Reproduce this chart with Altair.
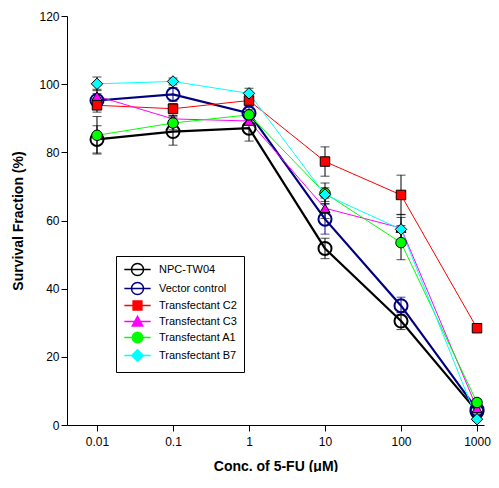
import altair as alt
import pandas as pd

conc = [0.01, 0.1, 1, 10, 100, 1000]
series_names = ["NPC-TW04", "Vector control", "Transfectant C2",
                "Transfectant C3", "Transfectant A1", "Transfectant B7"]

npc = [83.8, 86.1, 87.1, 51.8, 30.5, 4.0]
npc_err = [4.0, 4.0, 3.8, 3.0, 2.5, 1.0]
vec = [95.2, 97.0, 91.5, 60.4, 35.0, 4.5]
vec_err = [2.0, 2.0, 2.0, 4.4, 2.5, 1.0]
c2 = [93.8, 92.8, 95.2, 77.3, 67.5, 28.4]
c2_err = [2.0, 1.5, 1.5, 4.3, 5.8, 0.5]
c3 = [96.5, 89.8, 89.2, 63.6, 57.8, 4.9]
c3_err = [2.0, 1.0, 1.0, 3.0, 4.0, 1.0]
a1 = [85.0, 88.6, 91.0, 68.0, 53.5, 6.6]
a1_err = [5.5, 2.0, 1.5, 3.0, 5.0, 1.0]
b7 = [100.1, 100.8, 97.3, 67.6, 57.4, 1.7]
b7_err = [2.0, 1.0, 1.5, 2.0, 3.5, 0.5]

values = [npc, vec, c2, c3, a1, b7]
errors = [npc_err, vec_err, c2_err, c3_err, a1_err, b7_err]

line_colors = ["#000000", "#000080", "#ff0000", "#ff00ff", "#00ff00", "#00ffff"]
line_widths = [2.2, 2.2, 1.0, 1.0, 1.0, 1.0]
shapes = ["circle", "circle", "square", "triangle-up", "circle", "diamond"]
fills = ["transparent", "transparent", "#ff0000", "#ff00ff", "#00ff00", "#00ffff"]
strokes = ["#000000", "#000080", "#000000", "#000000", "#000000", "#000000"]
sizes = [170, 170, 90, 100, 110, 130]
stroke_widths = [2.0, 2.0, 1.0, 1.0, 1.0, 1.0]

# legend glyphs: a short line with the marker drawn on it
CIRC_OPEN = "M-2.4,0L2.4,0M1.1,0A1.1,1.1 0 1,1 -1.1,0A1.1,1.1 0 1,1 1.1,0Z"
SQUARE = "M-2.4,0L-0.8,0M0.8,0L2.4,0M-0.8,-0.8L0.8,-0.8L0.8,0.8L-0.8,0.8Z"
TRIANGLE = "M-2.4,0L-0.5,0M0.5,0L2.4,0M0,-0.95L0.95,0.8L-0.95,0.8Z"
CIRC = "M-2.4,0L-0.95,0M0.95,0L2.4,0M0.95,0A0.95,0.95 0 1,1 -0.95,0A0.95,0.95 0 1,1 0.95,0Z"
DIAMOND = "M-2.4,0L-1.05,0M1.05,0L2.4,0M-1.05,0L0,-1.05L1.05,0L0,1.05Z"
legend_glyphs = [CIRC_OPEN, CIRC_OPEN, SQUARE, TRIANGLE, CIRC, DIAMOND]

rows = []
for name, vals, errs in zip(series_names, values, errors):
    for c, v, e in zip(conc, vals, errs):
        rows.append({"series": name, "conc": c, "value": v,
                     "lo": v - e, "hi": v + e})
df = pd.DataFrame(rows)

font = "Liberation Sans"
xscale = alt.Scale(type="log", domain=[0.00403, 1236], nice=False)
xaxis = alt.Axis(values=conc, format="~g", title="Conc. of 5-FU (\u03bcM)")
yscale = alt.Scale(domain=[0, 120], nice=False, zero=False)
yaxis = alt.Axis(values=[0, 20, 40, 60, 80, 100, 120], title="Survival Fraction (%)")

X = alt.X("conc:Q", scale=xscale, axis=xaxis)
Y = alt.Y("value:Q", scale=yscale, axis=yaxis)

base = alt.Chart(df)


def err_layers(filt, color):
    b = base.transform_filter(filt)
    rule = b.mark_rule(color=color, strokeWidth=1).encode(
        x=X, y=alt.Y("lo:Q", scale=yscale, axis=yaxis), y2="hi:Q")
    cap_lo = b.mark_tick(orient="horizontal", size=9, thickness=1, color=color).encode(
        x=X, y=alt.Y("lo:Q", scale=yscale, axis=yaxis))
    cap_hi = b.mark_tick(orient="horizontal", size=9, thickness=1, color=color).encode(
        x=X, y=alt.Y("hi:Q", scale=yscale, axis=yaxis))
    return [rule, cap_lo, cap_hi]


errs_black = err_layers(alt.datum.series != "Vector control", "black")
errs_navy = err_layers(alt.datum.series == "Vector control", "#000080")

line_layers = []
for i, name in enumerate(series_names):
    line_layers.append(
        base.transform_filter(alt.datum.series == name).mark_line(
            color=line_colors[i], strokeWidth=line_widths[i]
        ).encode(x=X, y=Y)
    )

marker_layers = []
for i, name in enumerate(series_names):
    marker_layers.append(
        base.transform_filter(alt.datum.series == name).mark_point(
            shape=shapes[i], fill=fills[i], stroke=strokes[i], size=sizes[i],
            strokeWidth=stroke_widths[i], opacity=1, fillOpacity=1,
        ).encode(x=X, y=Y)
    )

legend = alt.Legend(
    title=None, orient="none", legendX=49, legendY=240,
    symbolSize=120, symbolStrokeWidth=1.5,
    symbolOffset=8, labelOffset=15, labelFont=font, labelFontSize=11,
    labelColor="black", padding=7, rowPadding=0,
    strokeColor="black", fillColor="white",
)

# legend carrier: no rows survive the filter, the explicit domains give the entries
legend_layer = base.transform_filter(alt.datum.value > 1000).mark_point(opacity=1).encode(
    x=X, y=Y,
    shape=alt.Shape("series:N", scale=alt.Scale(domain=series_names, range=legend_glyphs),
                    legend=legend),
    fill=alt.Fill("series:N", scale=alt.Scale(domain=series_names, range=fills),
                  legend=legend),
    stroke=alt.Stroke("series:N", scale=alt.Scale(domain=series_names, range=line_colors),
                      legend=legend),
)

chart = alt.layer(*errs_black, *errs_navy, *line_layers, *marker_layers,
                  legend_layer).properties(
    width=417, height=409,
    autosize=alt.AutoSizeParams(type="none"),
    padding={"left": 59, "top": 8, "right": 7, "bottom": 47},
).configure_view(stroke=None).configure_axis(
    grid=False, domainColor="black", tickColor="black", labelColor="black",
    titleColor="black", labelFont=font, titleFont=font, labelFontSize=12,
    titleFontSize=14, titleFontWeight="bold", tickSize=6, domainWidth=1,
    tickWidth=1,
).configure_axisY(labelPadding=2, titlePadding=13).configure_axisX(
    labelPadding=5, titlePadding=12)

chart.save("out.html", embed_options={"renderer": "svg", "actions": False})
